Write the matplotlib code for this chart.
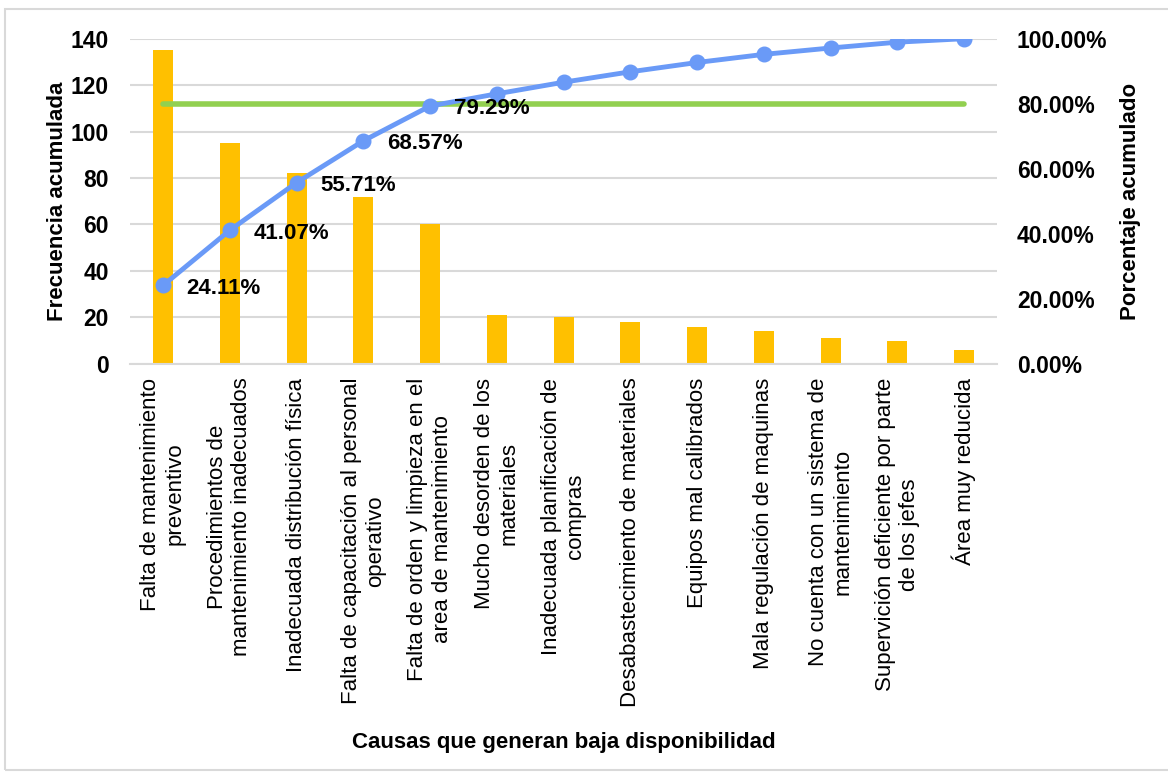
import matplotlib.pyplot as plt
from matplotlib.patches import Rectangle
from matplotlib.ticker import FuncFormatter, MultipleLocator

plt.rcParams["font.family"] = ["Liberation Sans", "DejaVu Sans"]

causas = [
    "Falta de mantenimiento\npreventivo",
    "Procedimientos de\nmantenimiento inadecuados",
    "Inadecuada distribución física",
    "Falta de capacitación al personal\noperativo",
    "Falta de orden y limpieza en el\narea de mantenimiento",
    "Mucho desorden de los\nmateriales",
    "Inadecuada planificación de\ncompras",
    "Desabastecimiento de materiales",
    "Equipos mal calibrados",
    "Mala regulación de maquinas",
    "No cuenta con un sistema de\nmantenimiento",
    "Supervición deficiente por parte\nde los jefes",
    "Área muy reducida",
]
frecuencia = [135, 95, 82, 72, 60, 21, 20, 18, 16, 14, 11, 10, 6]
porcentaje_acum = [0.2411, 0.4107, 0.5571, 0.6857, 0.7929, 0.8304, 0.8661,
                   0.8982, 0.9268, 0.9518, 0.9714, 0.9893, 1.0]
limite = [0.80] * len(causas)
etiquetas = ["24.11%", "41.07%", "55.71%", "68.57%", "79.29%"]

BAR = "#FFC000"
LINE = "#6A9AF7"
GREEN = "#92D050"
GRID = "#D9D9D9"

fig = plt.figure(figsize=(11.68, 7.74), dpi=100)
ax = fig.add_axes([0.111, 0.530, 0.743, 0.420])
x = list(range(len(causas)))

ax.bar(x, frecuencia, width=0.3, color=BAR, zorder=2)
ax.set_xlim(-0.5, len(causas) - 0.5)
ax.set_ylim(0, 140)
ax.yaxis.set_major_locator(MultipleLocator(20))
ax.grid(axis="y", color=GRID, linewidth=1.5, zorder=0)
ax.set_axisbelow(True)
for s in ["top", "right", "left"]:
    ax.spines[s].set_visible(False)
ax.spines["bottom"].set_color(GRID)
ax.spines["bottom"].set_linewidth(1.5)
ax.tick_params(axis="both", length=0)
ax.tick_params(axis="y", labelsize=16.5, pad=15)
for t in ax.get_yticklabels():
    t.set_fontweight("bold")
ax.set_xticks(x)
ax.set_xticklabels(causas, rotation=90, ha="center", va="top",
                   multialignment="center", fontsize=16)
ax.tick_params(axis="x", pad=10)
ax.set_ylabel("Frecuencia acumulada", fontsize=16, fontweight="bold", labelpad=2)
ax.set_xlabel("Causas que generan baja disponibilidad", fontsize=16,
              fontweight="bold", labelpad=18)

ax2 = ax.twinx()
ax2.set_ylim(0, 1.0)
ax2.plot(x, limite, color=GREEN, linewidth=4, solid_capstyle="round", zorder=3)
ax2.plot(x, porcentaje_acum, color=LINE, linewidth=3.5, marker="o",
         markersize=10.5, zorder=4)
for i, lab in enumerate(etiquetas):
    ax2.annotate(lab, (x[i], porcentaje_acum[i]), xytext=(17, -2),
                 textcoords="offset points", ha="left", va="center",
                 fontsize=16, fontweight="bold", zorder=5)
ax2.yaxis.set_major_locator(MultipleLocator(0.2))
ax2.yaxis.set_major_formatter(FuncFormatter(lambda v, _: f"{v * 100:.2f}%"))
for s in ax2.spines.values():
    s.set_visible(False)
ax2.tick_params(axis="y", length=0, labelsize=16.5, pad=14)
for t in ax2.get_yticklabels():
    t.set_fontweight("bold")
ax2.set_ylabel("Porcentaje acumulado", fontsize=16, fontweight="bold", labelpad=9)

fig.patches.append(Rectangle((5 / 1168, 4 / 774), 1.0, 761 / 774,
                             transform=fig.transFigure, fill=False,
                             edgecolor=GRID, linewidth=1.5))

fig.savefig("out.png", dpi=100)
